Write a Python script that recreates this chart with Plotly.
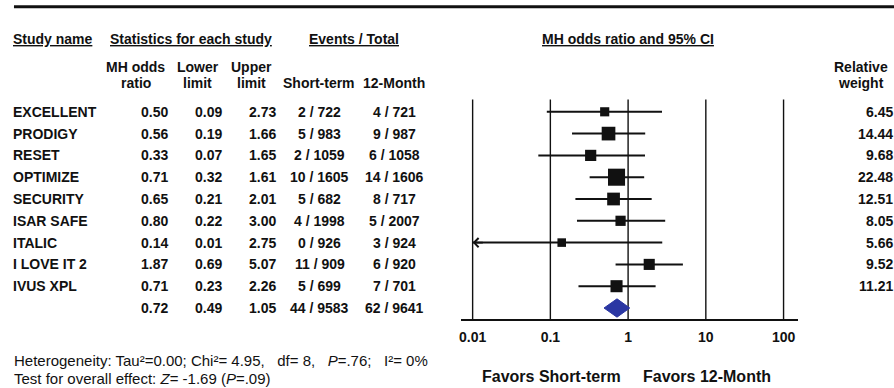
import math
import plotly.graph_objects as go

# ---------------- data ----------------
studies = ["EXCELLENT", "PRODIGY", "RESET", "OPTIMIZE", "SECURITY",
           "ISAR SAFE", "ITALIC", "I LOVE IT 2", "IVUS XPL"]
odds_ratio = [0.50, 0.56, 0.33, 0.71, 0.65, 0.80, 0.14, 1.87, 0.71]
lower_limit = [0.09, 0.19, 0.07, 0.32, 0.21, 0.22, 0.01, 0.69, 0.23]
upper_limit = [2.73, 1.66, 1.65, 1.61, 2.01, 3.00, 2.75, 5.07, 2.26]
short_term = ["2 / 722", "5 / 983", "2 / 1059", "10 / 1605", "5 / 682",
              "4 / 1998", "0 / 926", "11 / 909", "5 / 699"]
twelve_month = ["4 / 721", "9 / 987", "6 / 1058", "14 / 1606", "8 / 717",
                "5 / 2007", "3 / 924", "6 / 920", "7 / 701"]
rel_weight = [6.45, 14.44, 9.68, 22.48, 12.51, 8.05, 5.66, 9.52, 11.21]

overall_or = 0.72
overall_lo = 0.49
overall_hi = 1.05
overall_short = "44 / 9583"
overall_12m = "62 / 9641"

tick_vals = [0.01, 0.1, 1, 10, 100]
tick_text = ["0.01", "0.1", "1", "10", "100"]

# ---------------- layout helpers ----------------
W, H = 894, 388
ROW0, ROWH = 111.8, 21.8          # pixel y of first row, row spacing
PAD = 3.5                          # annotation inner padding


def vy(py):                        # pixel y -> y-axis value
    return (py - ROW0) / ROWH


def px(x):                         # pixel x -> paper x
    return x / W


BOLD = dict(family="Liberation Sans, Arial, sans-serif", size=14,
            color="#111111", weight="bold")
BOLD_BIG = dict(BOLD, size=16)
REG = dict(family="Liberation Sans, Arial, sans-serif", size=15,
           color="#111111")

n = len(studies)
rows = list(range(n))
summary_row = n

fig = go.Figure()

# vertical reference lines at the ticks
gx, gy = [], []
for t in tick_vals:
    gx += [t, t, None]
    gy += [vy(99.5), vy(320), None]
fig.add_trace(go.Scatter(x=gx, y=gy, mode="lines",
                         line=dict(color="#111111", width=1.4),
                         hoverinfo="skip", showlegend=False))

# confidence intervals
cx, cy = [], []
for i in rows:
    cx += [lower_limit[i], upper_limit[i], None]
    cy += [i, i, None]
fig.add_trace(go.Scatter(x=cx, y=cy, mode="lines",
                         line=dict(color="#111111", width=2),
                         hoverinfo="skip", showlegend=False))

# study squares sized by weight
fig.add_trace(go.Scatter(
    x=odds_ratio, y=rows, mode="markers",
    marker=dict(symbol="square", color="#111111", opacity=1,
                size=[3.6 * math.sqrt(w) for w in rel_weight],
                line=dict(width=0)),
    hoverinfo="skip", showlegend=False))

# summary diamond
dh = 0.42
fig.add_trace(go.Scatter(
    x=[overall_lo, overall_or, overall_hi, overall_or, overall_lo],
    y=[summary_row, summary_row - dh, summary_row, summary_row + dh, summary_row],
    mode="lines", fill="toself", fillcolor="#2b37a3",
    line=dict(color="#2b37a3", width=1),
    hoverinfo="skip", showlegend=False))

ann = []

# arrows for CIs reaching the axis minimum
for i in rows:
    if lower_limit[i] <= tick_vals[0]:
        ann.append(dict(x=math.log10(lower_limit[i]), y=i, xref="x", yref="y",
                        ax=math.log10(lower_limit[i]) + 0.15, ay=i,
                        axref="x", ayref="y", text="", showarrow=True,
                        arrowhead=4, arrowsize=1.1, arrowwidth=1.6,
                        arrowcolor="#111111"))


def txt(text, x, y, anchor, font=BOLD):
    if anchor == "left":
        x -= PAD
    elif anchor == "right":
        x += PAD
    ann.append(dict(text=text, x=px(x), y=vy(y), xref="paper", yref="y",
                    xanchor=anchor, yanchor="middle", showarrow=False,
                    font=font))


# headers
txt("<u>Study name</u>", 13, 38.5, "left")
txt("<u>Statistics for each study</u>", 189, 38.5, "center")
txt("<u>Events / Total</u>", 353, 38.5, "center")
txt("<u>MH odds ratio and 95% CI</u>", 627.7, 38.5, "center")
txt("MH odds", 134, 66.7, "center")
txt("ratio", 134, 83.3, "center")
txt("Lower", 196, 66.7, "center")
txt("limit", 196, 83.3, "center")
txt("Upper", 250, 66.7, "center")
txt("limit", 250, 83.3, "center")
txt("Short-term", 318, 83.3, "center")
txt("12-Month", 393, 83.3, "center")
txt("Relative", 861, 66.7, "center")
txt("weight", 861, 83.3, "center")

# table rows
for i in rows:
    py = ROW0 + ROWH * i
    txt(studies[i], 13, py, "left")
    txt(f"{odds_ratio[i]:.2f}", 164.5, py, "right")
    txt(f"{lower_limit[i]:.2f}", 219, py, "right")
    txt(f"{upper_limit[i]:.2f}", 273, py, "right")
    txt(short_term[i], 318.3, py, "center")
    txt(twelve_month[i], 393.3, py, "center")
    txt(f"{rel_weight[i]:.2f}", 892, py, "right")

py = ROW0 + ROWH * summary_row
txt(f"{overall_or:.2f}", 164.5, py, "right")
txt(f"{overall_lo:.2f}", 219, py, "right")
txt(f"{overall_hi:.2f}", 273, py, "right")
txt(overall_short, 318.3, py, "center")
txt(overall_12m, 393.3, py, "center")

# favors labels
txt("Favors Short-term", 550.3, 376.7, "center", BOLD_BIG)
txt("Favors 12-Month", 706.4, 376.7, "center", BOLD_BIG)

# footnotes
txt("Heterogeneity: Tau²=0.00; Chi²= 4.95,   df= 8,   <i>P</i>=.76;   I²= 0%",
    14, 360, "left", REG)
txt("Test for overall effect: <i>Z</i>= -1.69 (<i>P</i>=.09)",
    14, 378.3, "left", REG)

# top rule
shapes = [dict(type="line", xref="paper", yref="paper",
               x0=px(12), x1=1.0, y0=1 - 6.8 / H, y1=1 - 6.8 / H,
               line=dict(color="#111111", width=3))]

x_left = -2 - (471.7 - 460) / 78
x_right = 2 + (798 - 783.3) / 78

fig.update_layout(
    width=W, height=H,
    margin=dict(l=0, r=0, t=0, b=0),
    paper_bgcolor="white", plot_bgcolor="rgba(0,0,0,0)",
    showlegend=False,
    annotations=ann, shapes=shapes,
    xaxis=dict(type="log", domain=[px(460), px(798)],
               range=[x_left, x_right],
               anchor="free", position=1 - 320 / H,
               showline=True, linecolor="#111111", linewidth=2,
               showgrid=False, zeroline=False, ticks="",
               tickvals=tick_vals, ticktext=tick_text,
               tickfont=BOLD, ticklabelstandoff=4),
    yaxis=dict(range=[vy(H), vy(0)], domain=[0, 1],
               showgrid=False, zeroline=False, showline=False,
               showticklabels=False, ticks=""),
)

fig.write_html(
    "out.html",
    config={"displayModeBar": False, "staticPlot": True},
    post_script="document.body.style.margin='0';"
                "document.body.style.overflow='hidden';",
)
